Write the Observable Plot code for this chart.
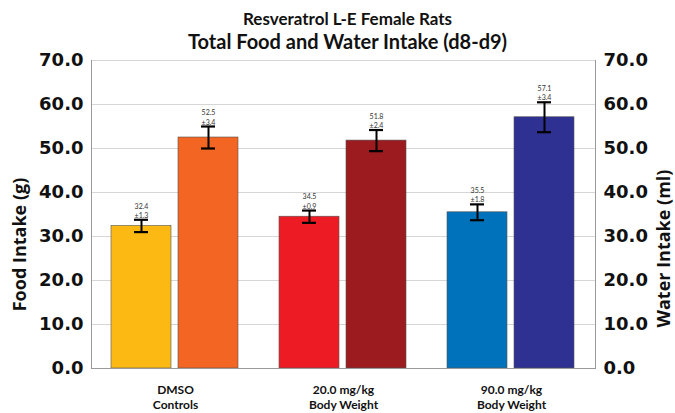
<!DOCTYPE html>
<html>
<head>
<meta charset="utf-8">
<script src="https://cdn.jsdelivr.net/npm/d3@7"></script>
<script src="https://cdn.jsdelivr.net/npm/@observablehq/plot@0.6"></script>
<style>
  html, body { margin: 0; padding: 0; background: #fff; }
  #wrap { width: 675px; height: 413px; overflow: hidden; }
  .t1, .t2 { font-family: Lato, "Open Sans", sans-serif; font-weight: 700; text-align: center; color: #111; margin-left: 20px; white-space: nowrap; }
  .t1 { font-size: 17px; line-height: 21px; padding-top: 8px; }
  .t2 { font-size: 20px; line-height: 24px; }
  #chart { margin-top: -5px; }
</style>
</head>
<body>
<div id="wrap">
  <div class="t1">Resveratrol L-E Female Rats</div>
  <div class="t2">Total Food and Water Intake (d8-d9)</div>
  <div id="chart"></div>
</div>
<script>
const groups = ["DMSO\nControls", "20.0 mg/kg\nBody Weight", "90.0 mg/kg\nBody Weight"];
const measures = ["Food", "Water"];
const foodValues = [32.4, 34.5, 35.5];
const waterValues = [52.5, 51.8, 57.1];
const foodErr = [1.4, 1.4, 1.8];
const waterErr = [2.5, 2.4, 3.4];
const foodErrLabels = ["±1.3", "±0.9", "±1.8"];
const waterErrLabels = ["±3.4", "±2.4", "±3.4"];
const foodColors = ["#FDB913", "#ED1C24", "#0072BC"];
const waterColors = ["#F26522", "#9B1B1F", "#2E3192"];
const yTicks = [0, 10, 20, 30, 40, 50, 60, 70];

const rows = [];
groups.forEach((g, i) => {
  rows.push({group: g, measure: "Food", value: foodValues[i], err: foodErr[i], label: foodErrLabels[i], color: foodColors[i]});
  rows.push({group: g, measure: "Water", value: waterValues[i], err: waterErr[i], label: waterErrLabels[i], color: waterColors[i]});
});

const tickFont = {fontSize: 18, fontWeight: "bold", fontFamily: "DejaVu Sans, sans-serif", fill: "#111"};
const titleFont = {fontSize: 18, fontWeight: "bold", fontFamily: "Open Sans, sans-serif", fill: "#111", textAnchor: "middle", lineAnchor: "middle"};

const chart = Plot.plot({
  width: 675,
  height: 365,
  marginTop: 12,
  marginBottom: 45,
  marginLeft: 90,
  marginRight: 79,
  style: {background: "#fff", overflow: "visible"},
  fx: {domain: groups, padding: 0, label: null},
  x: {domain: measures, paddingInner: 0.1, paddingOuter: 0.3, axis: null},
  y: {domain: [0, 70], label: null},
  marks: [
    Plot.gridY(yTicks, {stroke: "#d6d6d6", strokeOpacity: 1}),
    Plot.barY(rows, {fx: "group", x: "measure", y: "value", fill: "color", stroke: "#555", strokeWidth: 0.6}),
    Plot.ruleX(rows, {fx: "group", x: "measure", y1: d => d.value - d.err, y2: d => d.value + d.err, stroke: "#000", strokeWidth: 2}),
    Plot.tickY(rows, {fx: "group", x: "measure", y: d => d.value - d.err, insetLeft: 23, insetRight: 23, stroke: "#000", strokeWidth: 2.2}),
    Plot.tickY(rows, {fx: "group", x: "measure", y: d => d.value + d.err, insetLeft: 23, insetRight: 23, stroke: "#000", strokeWidth: 2.2}),
    Plot.text(rows, {fx: "group", x: "measure", y: d => d.value + d.err, text: d => `${d.value.toFixed(1)}\n${d.label}`, lineAnchor: "bottom", lineHeight: 1.3, dy: -2, fontSize: 7, fill: "#333", fontFamily: "Lato, sans-serif"}),
    Plot.ruleY([0], {stroke: "#9a9a9a"}),
    Plot.frame({anchor: "left", facet: "super", stroke: "#9a9a9a"}),
    Plot.frame({anchor: "right", facet: "super", stroke: "#9a9a9a"}),
    Plot.axisY({anchor: "left", ticks: yTicks, tickFormat: d3.format(".1f"), tickSize: 0, tickPadding: 8, label: null, ...tickFont}),
    Plot.axisY({anchor: "right", ticks: yTicks, tickFormat: d3.format(".1f"), tickSize: 0, tickPadding: 8, label: null, ...tickFont}),
    Plot.axisFx({anchor: "bottom", tickSize: 0, tickPadding: 14, label: null, fontSize: 12, fontWeight: "bold", fontFamily: "Lato, sans-serif", lineHeight: 1.3, fill: "#111"}),
    Plot.text(["Food Intake (g)"], {fx: () => groups[0], frameAnchor: "left", rotate: -90, dx: -71, dy: 30, ...titleFont}),
    Plot.text(["Water Intake (ml)"], {fx: () => groups[2], frameAnchor: "right", rotate: -90, dx: 69, dy: 34, ...titleFont})
  ]
});
document.getElementById("chart").appendChild(chart);
</script>
</body>
</html>
